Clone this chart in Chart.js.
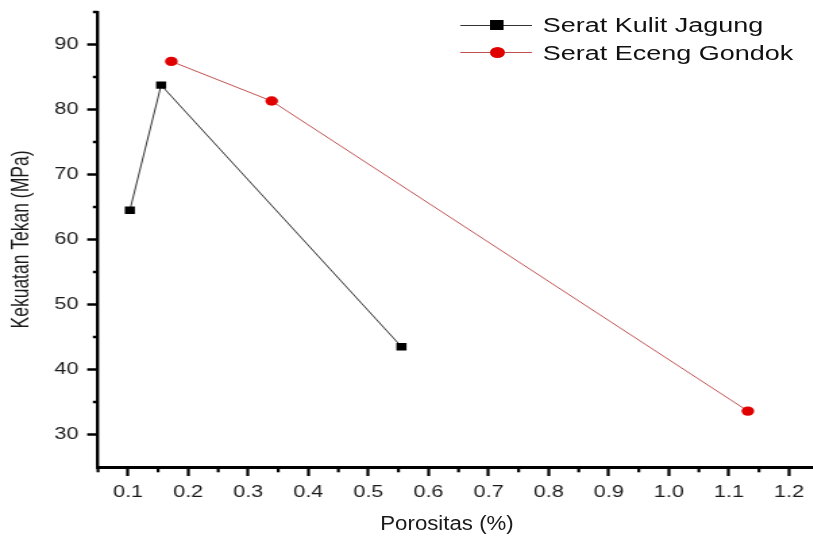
<!DOCTYPE html>
<html>
<head>
<meta charset="utf-8">
<script src="https://cdn.jsdelivr.net/npm/chart.js@4/dist/chart.umd.min.js"></script>
<style>
  html, body { margin: 0; padding: 0; background: #fff; overflow: hidden; }
  #outer { position: relative; width: 813px; height: 537px; overflow: hidden; background: #fff; }
  #inner { position: absolute; left: 0; top: 0; width: 612px; height: 537px; transform: scaleX(1.35); transform-origin: 0 0; }
  #chart { position: absolute; left: 0; top: 0; }
  .lg-row { position: absolute; left: 340px; height: 30px; width: 270px; }
  .lg-line { position: absolute; left: 0.7px; width: 53px; height: 1px; top: 14.5px; }
  .lg-mark { position: absolute; }
  .lg-text { position: absolute; left: 62px; top: 0; line-height: 30px; font-family: "Liberation Sans", Arial, sans-serif; font-size: 20px; color: #111; white-space: nowrap; }
  #xtitle { position: absolute; left: 447px; top: 523px; transform: translate(-50%, -50%) scaleX(1.14); font-family: "Liberation Sans", Arial, sans-serif; font-size: 19.5px; line-height: 24px; color: #1a1a1a; white-space: nowrap; }
</style>
</head>
<body>
<div id="outer">
  <div id="inner">
    <canvas id="chart" width="612" height="537"></canvas>
    <div class="lg-row" style="top:10px;">
      <div class="lg-line" style="background:#333;"></div>
      <div class="lg-mark" style="left:23px; top:10px; width:10px; height:10px; background:#000;"></div>
      <div class="lg-text" id="lg0"></div>
    </div>
    <div class="lg-row" style="top:37.7px;">
      <div class="lg-line" style="background:#c05050;"></div>
      <div class="lg-mark" style="left:22.5px; top:9.5px; width:11px; height:10.5px; border-radius:50%; background:#e00000;"></div>
      <div class="lg-text" id="lg1"></div>
    </div>
  </div>
  <div id="xtitle"></div>
</div>
<script>
// ---- data ----
const seriesNames = ["Serat Kulit Jagung", "Serat Eceng Gondok"];
const kulitJagungX = [0.103, 0.155, 0.555];
const kulitJagungY = [64.5, 83.75, 43.5];
const ecengGondokX = [0.172, 0.339, 1.1315];
const ecengGondokY = [87.4, 81.3, 33.6];
const xTicks = [0.1, 0.2, 0.3, 0.4, 0.5, 0.6, 0.7, 0.8, 0.9, 1.0, 1.1, 1.2];
const xMinorTicks = [0.05, 0.15, 0.25, 0.35, 0.45, 0.55, 0.65, 0.75, 0.85, 0.95, 1.05, 1.15];
const yTicks = [30, 40, 50, 60, 70, 80, 90];
const yMinorTicks = [35, 45, 55, 65, 75, 85, 95];
const xTitle = "Porositas (%)";
const yTitle = "Kekuatan Tekan (MPa)";

document.getElementById('lg0').textContent = seriesNames[0];
document.getElementById('lg1').textContent = seriesNames[1];
document.getElementById('xtitle').textContent = xTitle;

const toPts = (xs, ys) => xs.map((x, i) => ({ x: x, y: ys[i] }));

const minorTicksPlugin = {
  id: 'minorTicks',
  afterDraw(chart) {
    const ctx = chart.ctx;
    const xs = chart.scales.x, ys = chart.scales.y;
    const area = chart.chartArea;
    ctx.save();
    ctx.strokeStyle = '#000';
    ctx.lineWidth = 2.2;
    xMinorTicks.forEach(v => {
      const px = xs.getPixelForValue(v);
      ctx.beginPath();
      ctx.moveTo(px, area.bottom);
      ctx.lineTo(px, area.bottom + 5.3);
      ctx.stroke();
    });
    ctx.lineWidth = 2.5;
    yMinorTicks.forEach(v => {
      const py = ys.getPixelForValue(v);
      ctx.beginPath();
      ctx.moveTo(area.left, py);
      ctx.lineTo(area.left - 3.8, py);
      ctx.stroke();
    });
    ctx.restore();
  }
};

const FONT = '"Liberation Sans", Arial, sans-serif';

new Chart(document.getElementById('chart'), {
  type: 'scatter',
  data: {
    datasets: [
      {
        label: seriesNames[0],
        data: toPts(kulitJagungX, kulitJagungY),
        showLine: true,
        borderColor: '#333',
        borderWidth: 1,
        pointStyle: 'rect',
        pointRadius: 5.3,
        pointBackgroundColor: '#000',
        pointBorderWidth: 0,
      },
      {
        label: seriesNames[1],
        data: toPts(ecengGondokX, ecengGondokY),
        showLine: true,
        borderColor: '#c05050',
        borderWidth: 1,
        pointStyle: 'circle',
        pointRadius: 4.7,
        pointBackgroundColor: '#e00000',
        pointBorderWidth: 0,
      }
    ]
  },
  options: {
    responsive: false,
    animation: false,
    devicePixelRatio: 1,
    layout: { padding: { top: 12, right: 3, bottom: 0, left: 0 } },
    plugins: { legend: { display: false }, tooltip: { enabled: false } },
    scales: {
      x: {
        type: 'linear',
        min: 0.05,
        max: 1.25,
        afterBuildTicks: s => { s.ticks = xTicks.map(v => ({ value: v })); },
        afterFit: s => { s.height = 70; s.paddingLeft = 0; s.paddingRight = 0; },
        ticks: {
          color: '#1a1a1a',
          font: { family: FONT, size: 16 },
          padding: 6.5,
          maxRotation: 0,
          autoSkip: false,
          callback: v => Number(v).toFixed(1)
        },
        grid: { drawOnChartArea: false, drawTicks: true, tickLength: 9, tickColor: '#000', tickWidth: 2.2 },
        border: { display: true, color: '#000', width: 3 },
        title: { display: false }
      },
      y: {
        type: 'linear',
        min: 25,
        max: 95,
        afterBuildTicks: s => { s.ticks = yTicks.map(v => ({ value: v })); },
        afterFit: s => { s.width = 72.6; s.paddingTop = 0; s.paddingBottom = 0; },
        ticks: {
          color: '#1a1a1a',
          font: { family: FONT, size: 16 },
          padding: 6.5,
          autoSkip: false,
          callback: v => String(v)
        },
        grid: { drawOnChartArea: false, drawTicks: true, tickLength: 8, tickColor: '#000', tickWidth: 2.5 },
        border: { display: true, color: '#000', width: 2.4 },
        title: { display: true, text: yTitle, color: '#1a1a1a', font: { family: FONT, size: 17.5 }, padding: { top: 6, bottom: 0 } }
      }
    }
  },
  plugins: [minorTicksPlugin]
});
</script>
</body>
</html>
